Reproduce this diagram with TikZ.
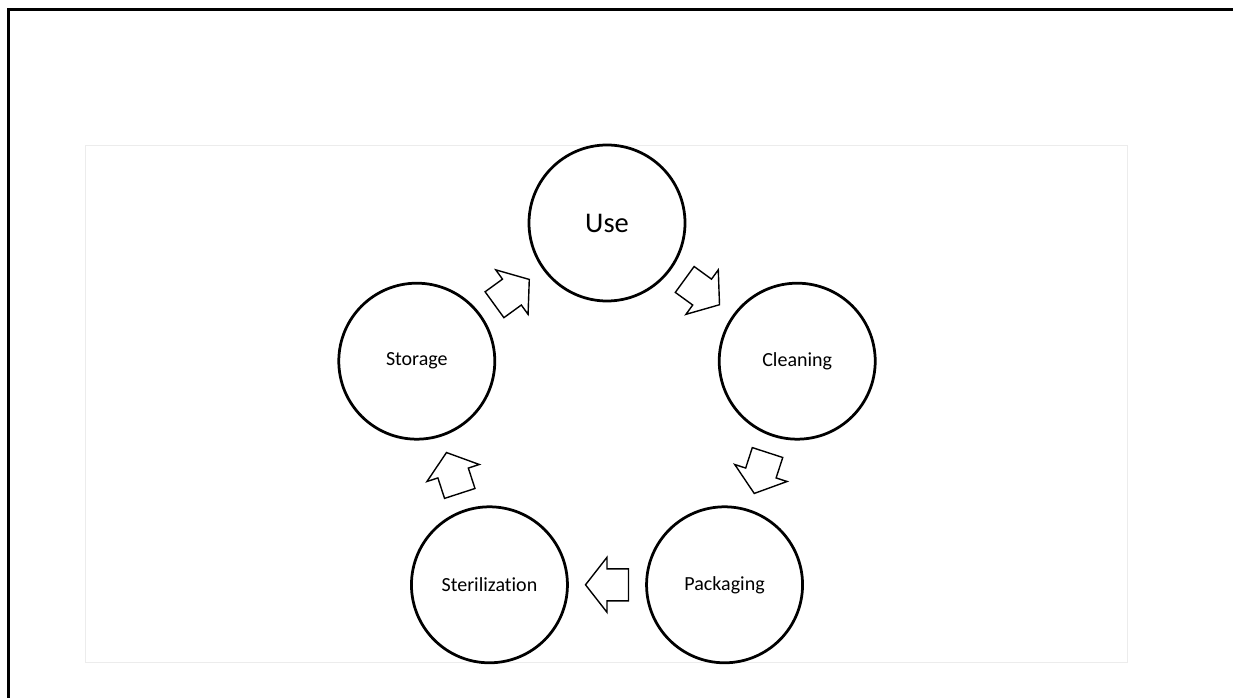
\documentclass[tikz,border=0pt]{standalone}
\usepackage{fontspec}
\setmainfont{Carlito}[Ligatures=CommonOff]
\usetikzlibrary{calc}

\tikzset{
  stage/.style={circle, draw, line width=2.75pt, minimum size=156pt, inner sep=0pt,
    font=\fontsize{20}{24}\selectfont},
  flowarrow/.pic={
    \draw[line width=1.4pt, fill=white] (-21.5,-16) -- (0,-16) -- (0,-27.5) -- (21.5,0)
      -- (0,27.5) -- (0,16) -- (-21.5,16) -- cycle;
  }
}

\begin{document}
\begin{tikzpicture}[x=1pt, y=1pt]
\useasboundingbox (0,0) rectangle (1233,698);
\draw[line width=3pt] (8,-5) -- (8,688.5) -- (1245,688.5);
\draw[gray!15, line width=1pt] (85,35) rectangle (1127,552.5);

\coordinate (centre) at (607,275);
\node[stage, font=\fontsize{28.5}{34}\selectfont] (use) at ($(centre)+(90:200)$) {Use};
\node[stage] (clean) at ($(centre)+(18:200)$) {Cleaning};
\node[stage] (pack) at ($(centre)+(-54:200)$) {Packaging};
\node[stage] (steril) at ($(centre)+(-126:200)$) {Sterilization};
\node[stage] (store) at ($(centre)+(162:200)$) {Storage};

\pic[rotate=-36] at ($(use)!0.5!(clean)$) {flowarrow};
\pic[rotate=-108] at ($(clean)!0.5!(pack)$) {flowarrow};
\pic[rotate=180] at ($(pack)!0.5!(steril)$) {flowarrow};
\pic[rotate=108] at ($(steril)!0.5!(store)$) {flowarrow};
\pic[rotate=36] at ($(store)!0.5!(use)$) {flowarrow};
\end{tikzpicture}
\end{document}
